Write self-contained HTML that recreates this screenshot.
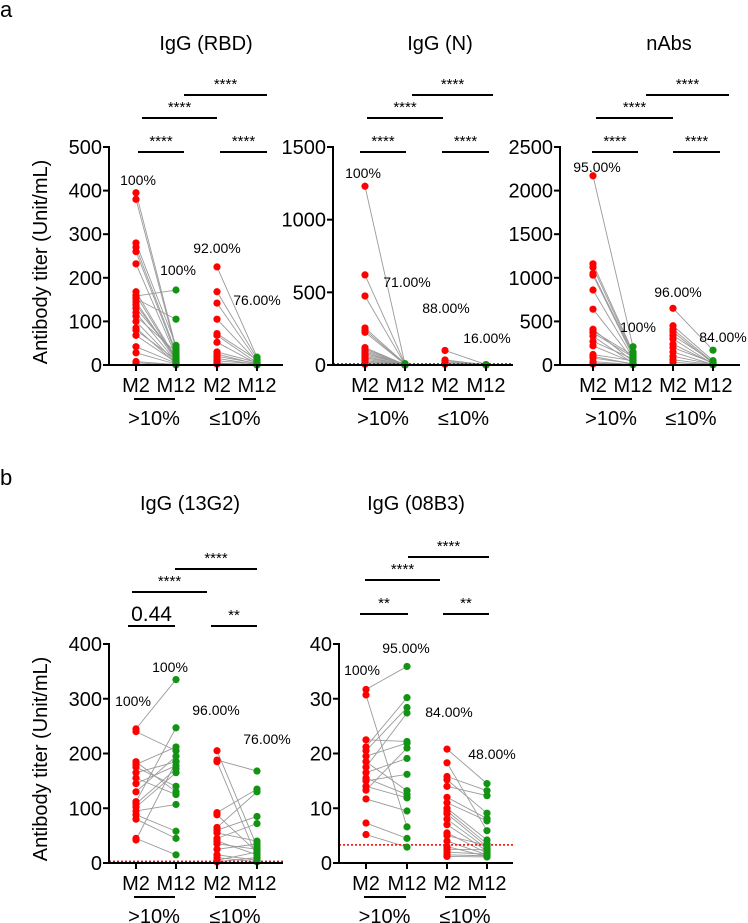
<!DOCTYPE html>
<html><head><meta charset="utf-8">
<style>
html,body{margin:0;padding:0;background:#fff;}
svg{display:block;font-family:"Liberation Sans",Arial,sans-serif;}
</style></head>
<body>
<svg id="fig" width="748" height="923" viewBox="0 0 748 923" xmlns="http://www.w3.org/2000/svg">
<text x="0" y="17" font-size="22">a</text>
<text x="0" y="485" font-size="22">b</text>
<text transform="translate(47,262) rotate(-90)" text-anchor="middle" font-size="20">Antibody titer (Unit/mL)</text>
<text transform="translate(47,759) rotate(-90)" text-anchor="middle" font-size="20">Antibody titer (Unit/mL)</text>
<g id="plots"></g>
</svg>
<script>
// ---- data ----
const groupLabels = [">10%", "\u226410%"];
const timeLabels = ["M2", "M12"];
// IgG (RBD)
const rbdG1M2  = [395,380,280,270,260,232,168,160,158,152,145,138,130,120,112,100,85,80,68,42,28,8,5];
const rbdG1M12 = [40,35,45,30,25,20,15,12,172,105,10,18,22,8,30,5,3,12,6,4,2,1,0];
const rbdG2M2  = [225,168,142,105,72,68,52,30,25,20,15,10,5,3,2];
const rbdG2M12 = [18,15,10,8,12,5,3,6,2,4,1,2,0,1,0];
const rbdTicks = [0,100,200,300,400,500];
// IgG (N)
const nG1M2  = [1230,620,475,255,240,225,120,110,100,90,80,70,60,50,40,30,20,10,5];
const nG1M12 = [5,8,3,10,6,4,2,5,3,1,2,6,1,3,2,0,1,0,0];
const nG2M2  = [100,35,30,20,10,5];
const nG2M12 = [3,2,1,0,0,0];
const nTicks = [0,500,1000,1500];
// nAbs
const abG1M2  = [2170,1160,1120,1050,1030,860,640,410,390,370,330,270,220,120,100,80,40,20,10];
const abG1M12 = [210,150,130,120,100,80,60,40,110,90,20,70,30,50,10,15,5,8,3];
const abG2M2  = [650,450,410,380,340,300,240,200,150,100,60,30];
const abG2M12 = [170,50,30,20,40,10,15,25,5,8,3,2];
const abTicks = [0,500,1000,1500,2000,2500];
// IgG (13G2)
const g13G1M2  = [245,240,185,180,175,165,155,145,130,112,108,102,95,88,80,45,42];
const g13G1M12 = [335,205,130,212,140,185,125,178,195,247,172,165,107,58,45,15,185];
const g13G2M2  = [205,188,185,92,88,65,60,55,45,40,35,25,15,10,5,2];
const g13G2M12 = [30,168,10,135,20,130,85,40,72,15,25,35,5,2,20,10];
const g13Ticks = [0,100,200,300,400];
// IgG (08B3)
const b08G1M2  = [31.7,30.7,22.5,21.2,20.5,19.5,18.5,17.5,16.5,15.5,15,14,13.3,11.7,7.3,5.2];
const b08G1M12 = [35.9,6.6,22.2,30.2,28.4,21.9,13.2,27.4,19.1,12.5,16.2,11.9,21,9.5,4.5,2.9];
const b08G2M2  = [20.8,18.3,15.8,15.2,14,12,11,10,9.5,9,8,7,5.5,5,4,3,2.5,2,1.5,1.2];
const b08G2M12 = [14.5,5.9,13.2,9.1,12.3,8.1,7.7,4.2,3.5,3,2.6,2.2,1.8,3.2,1.5,1.2,2.4,1.6,1.3,1.1];
const b08Ticks = [0,10,20,30,40];

const NS = "http://www.w3.org/2000/svg";
const root = document.getElementById("plots");
function mk(tag, attrs, parent){
  const e = document.createElementNS(NS, tag);
  for (const k in attrs) e.setAttribute(k, attrs[k]);
  (parent||root).appendChild(e);
  return e;
}
function txt(s, x, y, size, anchor, parent){
  const t = mk("text", {x:x, y:y, "font-size":size, "text-anchor":anchor||"middle"}, parent);
  t.textContent = s;
  return t;
}

function panel(cfg){
  const g = mk("g", {});
  
  
  const ymax = cfg.ticks[cfg.ticks.length-1];
  const yS = v => cfg.y0 - (v / ymax) * (cfg.y0 - cfg.yTop);
  const c = cfg.cols;
  // title
  const tt = txt(cfg.title, cfg.titleX, cfg.titleY, 20, "middle", g);
  
  
  // lines
  const groups = [[cfg.g1m2, cfg.g1m12, c[0], c[1]], [cfg.g2m2, cfg.g2m12, c[2], c[3]]];
  groups.forEach(([a, b, xa, xb]) => {
    for (let i = 0; i < a.length; i++){
      const l = mk("line", {x1:xa, y1:yS(a[i]), x2:xb, y2:yS(b[i]), stroke:"#9a9a9a", "stroke-width":0.9}, g);
      
      
    }
  });
  // threshold
  if (cfg.thr !== undefined){
    const d = mk("line", {x1:cfg.ax, x2:cfg.xEnd, y1:yS(cfg.thr), y2:yS(cfg.thr), stroke:"#e00", "stroke-width":1.5, "stroke-dasharray":"2,2"}, g);
    
    
  }
  // dots
  groups.forEach(([a, b, xa, xb]) => {
    a.forEach(v => {
      const p = mk("circle", {cx:xa, cy:yS(v), r:3.6, fill:"#ff0000"}, g);
      
      
    });
    b.forEach(v => {
      const p = mk("circle", {cx:xb, cy:yS(v), r:3.6, fill:"#129412"}, g);
      
      
    });
  });
  // axes
  const ya = mk("line", {x1:cfg.ax, x2:cfg.ax, y1:cfg.yTop-1, y2:cfg.y0+1, stroke:"#000", "stroke-width":2}, g);
  
  
  const xa = mk("line", {x1:cfg.ax, x2:cfg.xEnd, y1:cfg.y0, y2:cfg.y0, stroke:"#000", "stroke-width":2}, g);
  
  
  cfg.ticks.forEach(t => {
    mk("line", {x1:cfg.ax-6, x2:cfg.ax, y1:yS(t), y2:yS(t), stroke:"#000", "stroke-width":2}, g);
    const lb = txt(String(t), cfg.ax-7, yS(t)+7, 20, "end", g);
    
    
  });
  c.forEach((x, i) => {
    mk("line", {x1:x, x2:x, y1:cfg.y0, y2:cfg.y0+6, stroke:"#000", "stroke-width":2}, g);
    const lb = txt(timeLabels[i%2], x, cfg.y0+27, 20, "middle", g);
    
    
  });
  [[c[0], c[1]], [c[2], c[3]]].forEach(([p, q], i) => {
    mk("line", {x1:p-2, x2:q-1, y1:cfg.y0+34, y2:cfg.y0+34, stroke:"#000", "stroke-width":2}, g);
    const lb = txt(groupLabels[i], (p+q)/2-2, cfg.y0+60, 20, "middle", g);
    
    
  });
  // percent annotations
  cfg.pct.forEach(([s, x, y]) => {
    const lb = txt(s, x, y, 14, "middle", g);
    
    
  });
  // significance brackets
  cfg.br.forEach(([x1, x2, y, s, fs]) => {
    mk("line", {x1:x1, x2:x2, y1:y, y2:y, stroke:"#000", "stroke-width":2}, g);
    const lb = txt(s, (x1+x2)/2, fs ? y-5 : y-6, fs||15, "middle", g);
    
    
  });
}

const S4 = "****", S2 = "**";
panel({name:"panel-igg-rbd", title:"IgG (RBD)", titleX:206, titleY:50, ax:109, xEnd:283, yTop:147, y0:365,
  cols:[136,176,217,257], ticks:rbdTicks, g1m2:rbdG1M2, g1m12:rbdG1M12, g2m2:rbdG2M2, g2m12:rbdG2M12,
  pct:[["100%",138,185],["100%",178,275],["92.00%",217,253],["76.00%",257,305]],
  br:[[138,184,152,S4],[220,267,152,S4],[142,217,118,S4],[184,267,95,S4]]});
panel({name:"panel-igg-n", title:"IgG (N)", titleX:440, titleY:50, ax:333, xEnd:513, yTop:147, y0:365,
  cols:[365,405,445,486], ticks:nTicks, thr:8, g1m2:nG1M2, g1m12:nG1M12, g2m2:nG2M2, g2m12:nG2M12,
  pct:[["100%",363,178],["71.00%",407,287],["88.00%",446,313],["16.00%",487,343]],
  br:[[360,406,152,S4],[442,489,152,S4],[367,443,118,S4],[412,493,95,S4]]});
panel({name:"panel-nabs", title:"nAbs", titleX:669, titleY:50, ax:560, xEnd:740, yTop:147, y0:365,
  cols:[593,633,673,713], ticks:abTicks, g1m2:abG1M2, g1m12:abG1M12, g2m2:abG2M2, g2m12:abG2M12,
  pct:[["95.00%",597,172],["100%",638,332],["96.00%",678,297],["84.00%",723,342]],
  br:[[592,638,152,S4],[673,720,152,S4],[596,673,118,S4],[646,729,95,S4]]});
panel({name:"panel-igg-13g2", title:"IgG (13G2)", titleX:190, titleY:510, ax:109, xEnd:283, yTop:644, y0:863,
  cols:[136,176,217,257], ticks:g13Ticks, thr:3, g1m2:g13G1M2, g1m12:g13G1M12, g2m2:g13G2M2, g2m12:g13G2M12,
  pct:[["100%",133,706],["100%",170,672],["96.00%",216,715],["76.00%",267,744]],
  br:[[128,175,626,"0.44",21],[211,257,626,S2],[132,207,592,S4],[175,257,569,S4]]});
panel({name:"panel-igg-08b3", title:"IgG (08B3)", titleX:416, titleY:510, ax:339, xEnd:513, yTop:644, y0:863,
  cols:[366,407,447,487], ticks:b08Ticks, thr:3.3, g1m2:b08G1M2, g1m12:b08G1M12, g2m2:b08G2M2, g2m12:b08G2M12,
  pct:[["100%",362,675],["95.00%",406,653],["84.00%",449,717],["48.00%",492,759]],
  br:[[360,408,614,S2],[443,489,614,S2],[365,440,580,S4],[408,489,557,S4]]});
</script>
</body></html>
